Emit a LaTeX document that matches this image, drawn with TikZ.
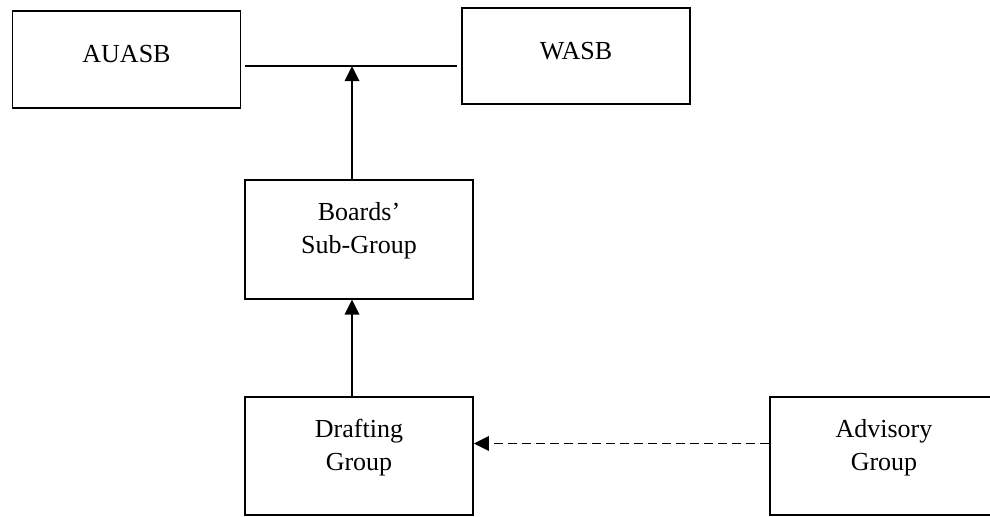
\documentclass[tikz,border=0pt]{standalone}
\usepackage{fontspec}
\setmainfont{Liberation Serif}
\usetikzlibrary{arrows.meta}

\begin{document}
\begin{tikzpicture}[
    x=1cm,y=1cm,>=Triangle,
    every node/.style={font=\fontsize{14.8}{18.8}\selectfont,align=center},
    board/.style={draw=black,line width=1.05pt,minimum width=4.56cm,minimum height=1.93cm,text depth=0.22cm},
    team/.style={board,minimum height=2.37cm,text depth=0.45cm},
    link/.style={-{Triangle[length=0.3cm,width=0.29cm]},draw=black,line width=1.05pt},
    advice/.style={link,dash pattern=on 0.18cm off 0.1cm}
]
\clip (0,0) rectangle (19.8,10.32);
\node[board] (auasb) at (2.53,9.13) {AUASB};
\node[board] (wasb) at (11.52,9.2) {WASB};
\node[team] (boards) at (7.18,5.53) {Boards'\\Sub-Group};
\node[team] (drafting) at (7.18,1.2) {Drafting\\Group};
\node[team] (advisory) at (17.68,1.2) {Advisory\\Group};
\coordinate (join) at (7.04,9.0);
\draw[line width=1.05pt,shorten <=0.08cm,shorten >=0.08cm] (auasb.east |- join) -- (wasb.west |- join);
\draw[link] (join |- boards.north) -- (join);
\draw[link] (join |- drafting.north) -- (join |- boards.south);
\draw[advice] ([yshift=0.25cm]advisory.west) -- ([yshift=0.25cm]drafting.east);
\end{tikzpicture}
\end{document}
